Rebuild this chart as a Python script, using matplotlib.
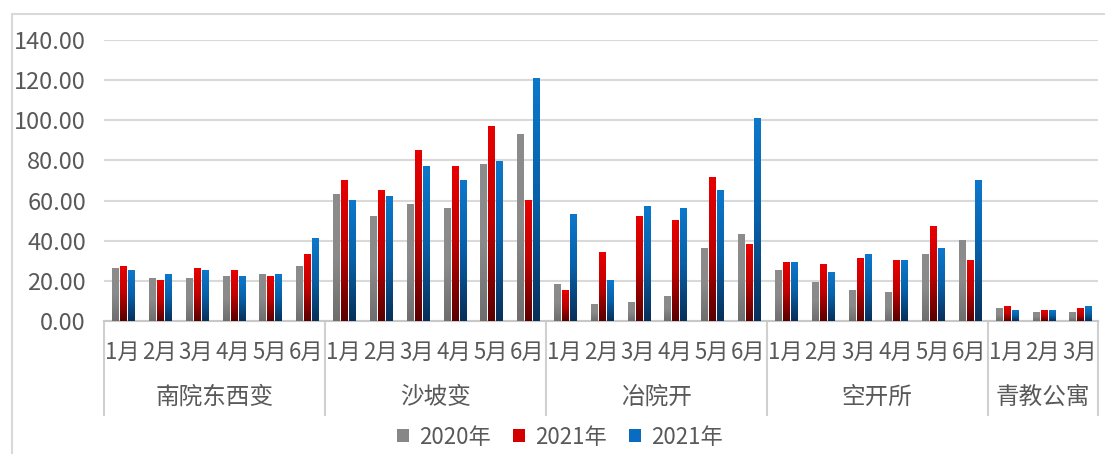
import numpy as np
import matplotlib
matplotlib.use("Agg")
import matplotlib.pyplot as plt
from matplotlib.colors import LinearSegmentedColormap
from matplotlib.patches import Patch, Rectangle
import matplotlib.transforms as mtransforms

plt.rcParams['font.family'] = ['Noto Sans CJK SC', 'DejaVu Sans']

# data
groups = ['南院东西变', '沙坡变', '冶院开', '空开所', '青教公寓']
group_sizes = [6, 6, 6, 6, 3]
months = ['1月', '2月', '3月', '4月', '5月', '6月']
series_names = ['2020年', '2021年', '2021年']

v2020 = [26.2, 21.2, 21.2, 22.4, 23.4, 27.4,
         63.3, 52.2, 58.3, 56.2, 78.3, 93.2,
         18.4, 8.3, 9.3, 12.3, 36.5, 43.3,
         25.4, 19.6, 15.4, 14.4, 33.3, 40.3,
         6.3, 4.3, 4.3]
v2021a = [27.5, 20.2, 26.2, 25.4, 22.4, 33.3,
          70.3, 65.3, 85.2, 77.3, 97.2, 60.2,
          15.3, 34.5, 52.4, 50.4, 71.5, 38.5,
          29.4, 28.4, 31.3, 30.3, 47.3, 30.3,
          7.3, 5.3, 6.3]
v2021b = [25.4, 23.4, 25.4, 22.4, 23.4, 41.3,
          60.2, 62.3, 77.3, 70.3, 79.5, 121.2,
          53.4, 20.4, 57.4, 56.4, 65.3, 101.1,
          29.4, 24.4, 33.3, 30.3, 36.3, 70.3,
          5.3, 5.3, 7.3]

month_labels = []
for n in group_sizes:
    month_labels += months[:n]

# gradient colours (bottom -> top)
grads = [
    ['#6e6e6e', '#8a8a8a', '#8c8c8c'],
    ['#5a0000', '#c00000', '#e80000'],
    ['#08305a', '#0760a8', '#0c78cc'],
]
legend_colors = ['#878787', '#d40000', '#0a6cc0']

txt = '#595959'

fig = plt.figure(figsize=(11.05, 4.54), dpi=100)
W, H = 1105, 454
ax = fig.add_axes([104 / W, 133 / H, 994 / W, 281 / H])

n = len(v2020)
x = np.arange(n)
step = 0.2174
width = 0.172
offsets = [-step + 0.027, 0.027, step + 0.027]

for vals, off, g in zip([v2020, v2021a, v2021b], offsets, grads):
    cmap = LinearSegmentedColormap.from_list('g', g)
    bars = ax.bar(x + off, vals, width, color=g[-1], zorder=2)
    grad = np.linspace(0, 1, 64).reshape(-1, 1)
    for b in bars:
        x0, w, h = b.get_x(), b.get_width(), b.get_height()
        im = ax.imshow(grad, cmap=cmap, origin='lower', aspect='auto',
                       extent=(x0, x0 + w, 0, h), zorder=3)
        im.set_clip_path(b)

ax.set_xlim(-0.5, n - 0.5)
ax.set_ylim(0, 140)
ax.set_yticks(np.arange(0, 141, 20))
ax.set_yticklabels([f'{t:.2f}' for t in np.arange(0, 141, 20)])
ax.tick_params(axis='y', length=0, labelsize=17, labelcolor=txt, pad=13)
ax.tick_params(axis='x', length=0, labelbottom=False)
ax.grid(axis='y', color='#d9d9d9', linewidth=1.5, zorder=0)
for s in ['left', 'right', 'top']:
    ax.spines[s].set_visible(False)
ax.spines['bottom'].set_color('#c8c8c8')
ax.spines['bottom'].set_linewidth(1.5)

trans = mtransforms.blended_transform_factory(ax.transData, ax.transAxes)
for i, lab in enumerate(month_labels):
    ax.text(i, -0.110, lab, transform=trans, ha='center', va='center',
            fontsize=16, color=txt, clip_on=False)

start = 0
bounds = [-0.5]
for name, size in zip(groups, group_sizes):
    center = start + (size - 1) / 2
    ax.text(center, -0.272, name, transform=trans, ha='center', va='center',
            fontsize=17, color=txt, clip_on=False)
    start += size
    bounds.append(start - 0.5)
for bx in bounds:
    ax.plot([bx, bx], [0, -0.335], transform=trans, color='#d0d0d0',
            linewidth=1.5, clip_on=False)

handles = [Patch(facecolor=c, edgecolor='none') for c in legend_colors]
fig.legend(handles, series_names, loc='center', bbox_to_anchor=(560 / W, 1 - 437 / H),
           ncol=3, frameon=False, fontsize=16, handlelength=0.55, handleheight=0.55,
           handletextpad=0.45, columnspacing=1.0, labelcolor=txt)

# chart frame
fig.patches.append(Rectangle((12 / W, -0.1), 1.2, 1 - 14 / H + 0.1,
                             transform=fig.transFigure, fill=False,
                             edgecolor='#d9d9d9', linewidth=1.5))

fig.savefig('out.png', dpi=100)
